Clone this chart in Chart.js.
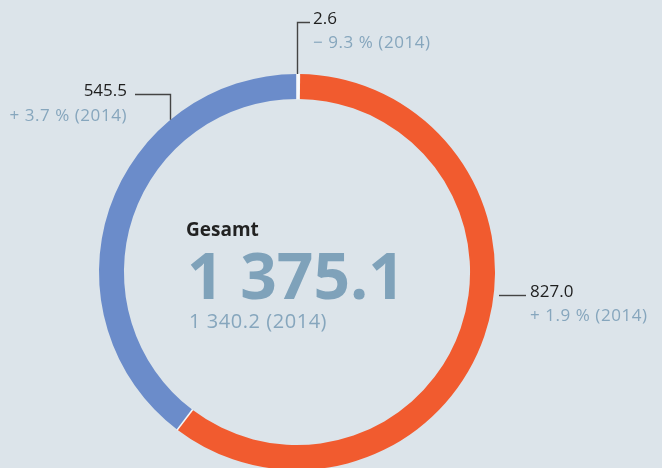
<!DOCTYPE html>
<html>
<head>
<meta charset="utf-8">
<script src="https://cdn.jsdelivr.net/npm/chart.js@4"></script>
<style>
  html, body { margin: 0; padding: 0; background: #dce4ea; overflow: hidden; }
  #wrap { position: relative; width: 662px; height: 468px; overflow: hidden; font-family: "Open Sans", sans-serif; }
  #chart { position: absolute; left: 0; top: 0; }
  .t { position: absolute; white-space: nowrap; line-height: 1; }
  .val { font-size: 17px; color: #1e1e1e; }
  .chg { font-size: 17px; color: #86a6bd; letter-spacing: 0.55px; }
</style>
</head>
<body>
<div id="wrap">
  <canvas id="chart" width="662" height="480"></canvas>
  <div class="t" id="lbl-gesamt" style="left:186px; top:220px; font-size:19px; font-weight:bold; color:#222;"></div>
  <div class="t" id="lbl-total" style="left:187px; top:243px; font-size:64px; font-weight:bold; color:#7fa2ba;"></div>
  <div class="t" id="lbl-total14" style="left:189px; top:311px; font-size:20px; color:#86a6bd; letter-spacing:0.55px;"></div>

  <div class="t val" id="v0" style="left:313px; top:9px;"></div>
  <div class="t chg" id="c0" style="left:313px; top:33px;"></div>
  <div class="t val" id="v1" style="left:530px; top:282px;"></div>
  <div class="t chg" id="c1" style="left:530px; top:306px;"></div>
  <div class="t val" id="v2" style="right:535px; top:81px; text-align:right;"></div>
  <div class="t chg" id="c2" style="right:535px; top:106px; text-align:right;"></div>
</div>
<script>
// werte 2015, reihenfolge im uhrzeigersinn ab 12 uhr
const categories = ['Sonstige', 'Segment Orange', 'Segment Blau'];
const values = [2.6, 827.0, 545.5];
const changes = ['− 9.3 %', '+ 1.9 %', '+ 3.7 %'];
const compareYear = '2014';
const totalLabel = 'Gesamt';
const total = 1375.1;
const total2014 = 1340.2;
const colors = ['#ffffff', '#f15b2f', '#6b8cca'];

function fmt(n) {
  const parts = n.toFixed(1).split('.');
  const int = parts[0].replace(/\B(?=(\d{3})+(?!\d))/g, ' ');
  return int + '.' + parts[1];
}

document.getElementById('lbl-gesamt').innerText = totalLabel;
document.getElementById('lbl-total').innerText = fmt(total);
document.getElementById('lbl-total14').innerText = `${fmt(total2014)} (${compareYear})`;
values.forEach((v, i) => {
  document.getElementById('v' + i).innerText = fmt(v);
  document.getElementById('c' + i).innerText = `${changes[i]} (${compareYear})`;
});

// helle trennlinien zwischen den segmenten + hinweislinien
const decor = {
  id: 'decor',
  afterDatasetsDraw(chart) {
    const ctx = chart.ctx;
    const arcs = chart.getDatasetMeta(0).data;
    ctx.save();
    ctx.strokeStyle = '#f4f7f9';
    ctx.lineWidth = 1.6;
    arcs.forEach(a => {
      const ang = a.startAngle;
      ctx.beginPath();
      ctx.moveTo(a.x + Math.cos(ang) * (a.innerRadius - 0.5), a.y + Math.sin(ang) * (a.innerRadius - 0.5));
      ctx.lineTo(a.x + Math.cos(ang) * (a.outerRadius + 0.5), a.y + Math.sin(ang) * (a.outerRadius + 0.5));
      ctx.stroke();
    });

    const a0 = arcs[0];
    const cx = a0.x, cy = a0.y, r = a0.outerRadius;
    ctx.strokeStyle = '#444';
    ctx.lineWidth = 1.4;

    // 2.6
    const mid = (a0.startAngle + a0.endAngle) / 2;
    const x0 = Math.round(cx + Math.cos(mid) * r) - 0.5;
    ctx.beginPath();
    ctx.moveTo(x0, cy + Math.sin(mid) * r);
    ctx.lineTo(x0, 22.5);
    ctx.lineTo(310, 22.5);
    ctx.stroke();

    // 545.5
    const lx = 170.5;
    ctx.beginPath();
    ctx.moveTo(lx, cy - Math.sqrt(r * r - (lx - cx) * (lx - cx)));
    ctx.lineTo(lx, 94.5);
    ctx.lineTo(135, 94.5);
    ctx.stroke();

    // 827.0
    ctx.beginPath();
    ctx.moveTo(499, 295.5);
    ctx.lineTo(526, 295.5);
    ctx.stroke();
    ctx.restore();
  }
};

new Chart(document.getElementById('chart').getContext('2d'), {
  type: 'doughnut',
  data: {
    labels: categories,
    datasets: [{
      data: values,
      backgroundColor: colors,
      borderWidth: 0
    }]
  },
  options: {
    responsive: false,
    animation: false,
    devicePixelRatio: 1,
    cutout: '87.4%',
    rotation: 0,
    layout: { padding: { left: 99, right: 167, top: 74, bottom: 10 } },
    plugins: { legend: { display: false }, tooltip: { enabled: false } }
  },
  plugins: [decor]
});
</script>
</body>
</html>
